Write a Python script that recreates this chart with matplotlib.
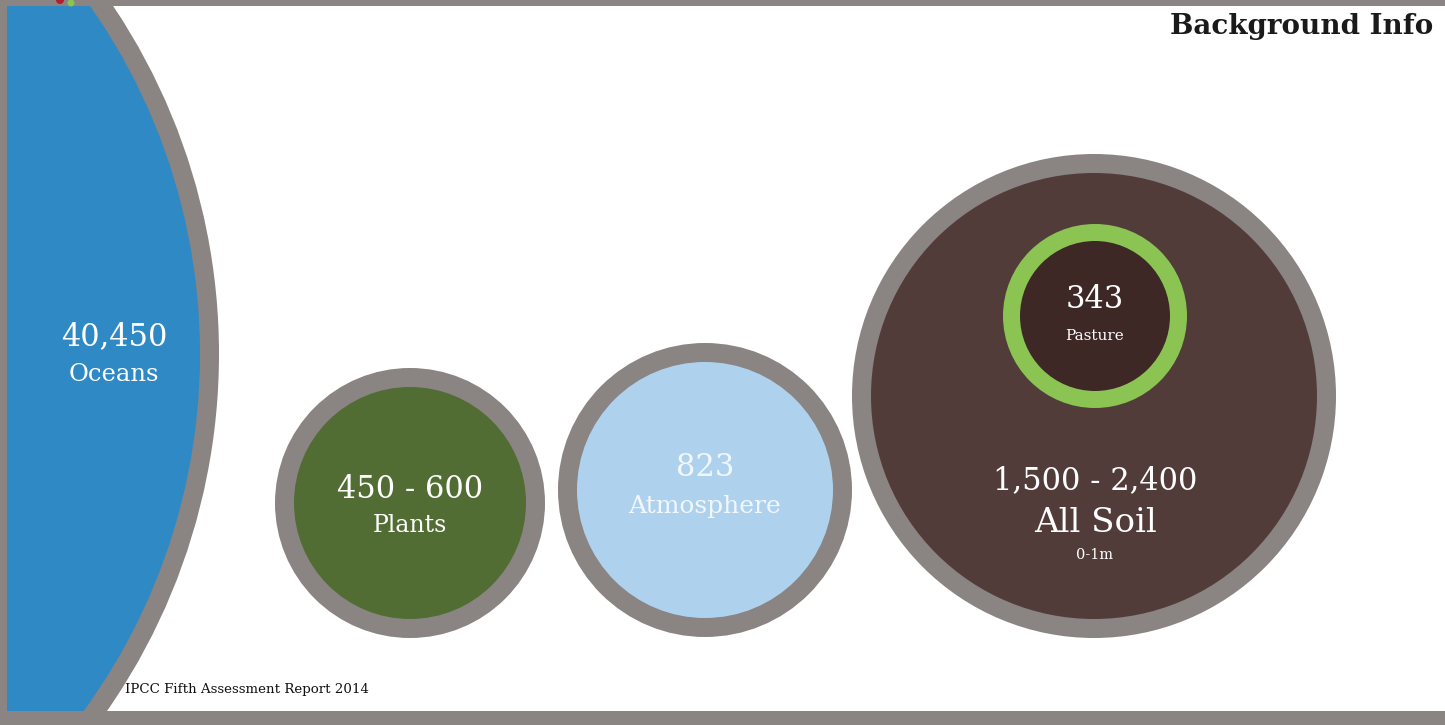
import matplotlib.pyplot as plt
from matplotlib.patches import Circle, Rectangle

# carbon stocks (Gt C) as labelled on the slide
pools = ["Oceans", "Plants", "Atmosphere", "All Soil", "Pasture"]
amounts = ["40,450", "450 - 600", "823", "1,500 - 2,400", "343"]
notes = ["", "", "", "0-1m", ""]
source = "IPCC Fifth Assessment Report 2014"
title = "Background Info"

# layout (pixels) and colours
centers = [(-406, 354), (410, 503), (705, 490), (1094, 396), (1095, 316)]
outer_r = [625, 135, 147, 242, 92]
inner_r = [606, 116, 128, 223, 75]
ring_col = ["#8a8482", "#8a8482", "#8a8482", "#8a8482", "#8bc453"]
fill_col = ["#2f89c5", "#526d34", "#aed2ee", "#523c3a", "#3d2826"]

W, H = 1445, 725
fig = plt.figure(figsize=(W / 100, H / 100), dpi=100)
ax = fig.add_axes([0, 0, 1, 1])
ax.set_xlim(0, W)
ax.set_ylim(H, 0)
ax.set_aspect("equal")
ax.axis("off")

serif = ["DejaVu Serif"]

for i, ((cx, cy), ro, ri, rc, fc) in enumerate(zip(centers, outer_r, inner_r, ring_col, fill_col)):
    ax.add_patch(Circle((cx, cy), ro, color=rc, lw=0, zorder=2 * i + 1))
    ax.add_patch(Circle((cx, cy), ri, color=fc, lw=0, zorder=2 * i + 2))

tz = 20
# text placement for each pool
ax.text(114, 337, amounts[0], color="white", fontsize=22, ha="center", va="center", family=serif, zorder=tz)
ax.text(114, 374, pools[0], color="white", fontsize=17.5, ha="center", va="center", family=serif, zorder=tz)

ax.text(410, 489, amounts[1], color="white", fontsize=22, ha="center", va="center", family=serif, zorder=tz)
ax.text(410, 526, pools[1], color="white", fontsize=17, ha="center", va="center", family=serif, zorder=tz)

ax.text(705, 467, amounts[2], color="#f2f7fc", fontsize=22, ha="center", va="center", family=serif, zorder=tz)
ax.text(705, 506, pools[2], color="#f2f7fc", fontsize=18, ha="center", va="center", family=serif, zorder=tz)

ax.text(1095, 299, amounts[4], color="white", fontsize=22, ha="center", va="center", family=serif, zorder=tz)
ax.text(1095, 336, pools[4], color="white", fontsize=11, ha="center", va="center", family=serif, zorder=tz)

ax.text(1095, 481, amounts[3], color="white", fontsize=22, ha="center", va="center", family=serif, zorder=tz)
ax.text(1095, 523, pools[3], color="white", fontsize=24.5,
        ha="center", va="center", family=serif, zorder=tz)
ax.text(1095, 555, notes[3], color="white", fontsize=10.5, ha="center", va="center", family=serif, zorder=tz)

# frame bands
ax.add_patch(Rectangle((0, 0), W, 6, color="#8a8482", lw=0, zorder=30))
ax.add_patch(Rectangle((0, 711), W, 14, color="#8a8482", lw=0, zorder=30))
ax.add_patch(Rectangle((0, 0), 7, H, color="#8a8482", lw=0, zorder=30))
ax.add_patch(Circle((60, 0), 4, color="#b0202a", lw=0, zorder=31))
ax.add_patch(Circle((71, 3), 3.5, color="#8bc453", lw=0, zorder=31))

ax.text(1433, 26, title, color="#1a1a1a", fontsize=20, fontweight="bold",
        ha="right", va="center", family=serif, zorder=tz)
ax.text(125, 690, source, color="#111111", fontsize=9.6, ha="left", va="center", family=serif, zorder=tz)

fig.savefig("out.png", dpi=100)
